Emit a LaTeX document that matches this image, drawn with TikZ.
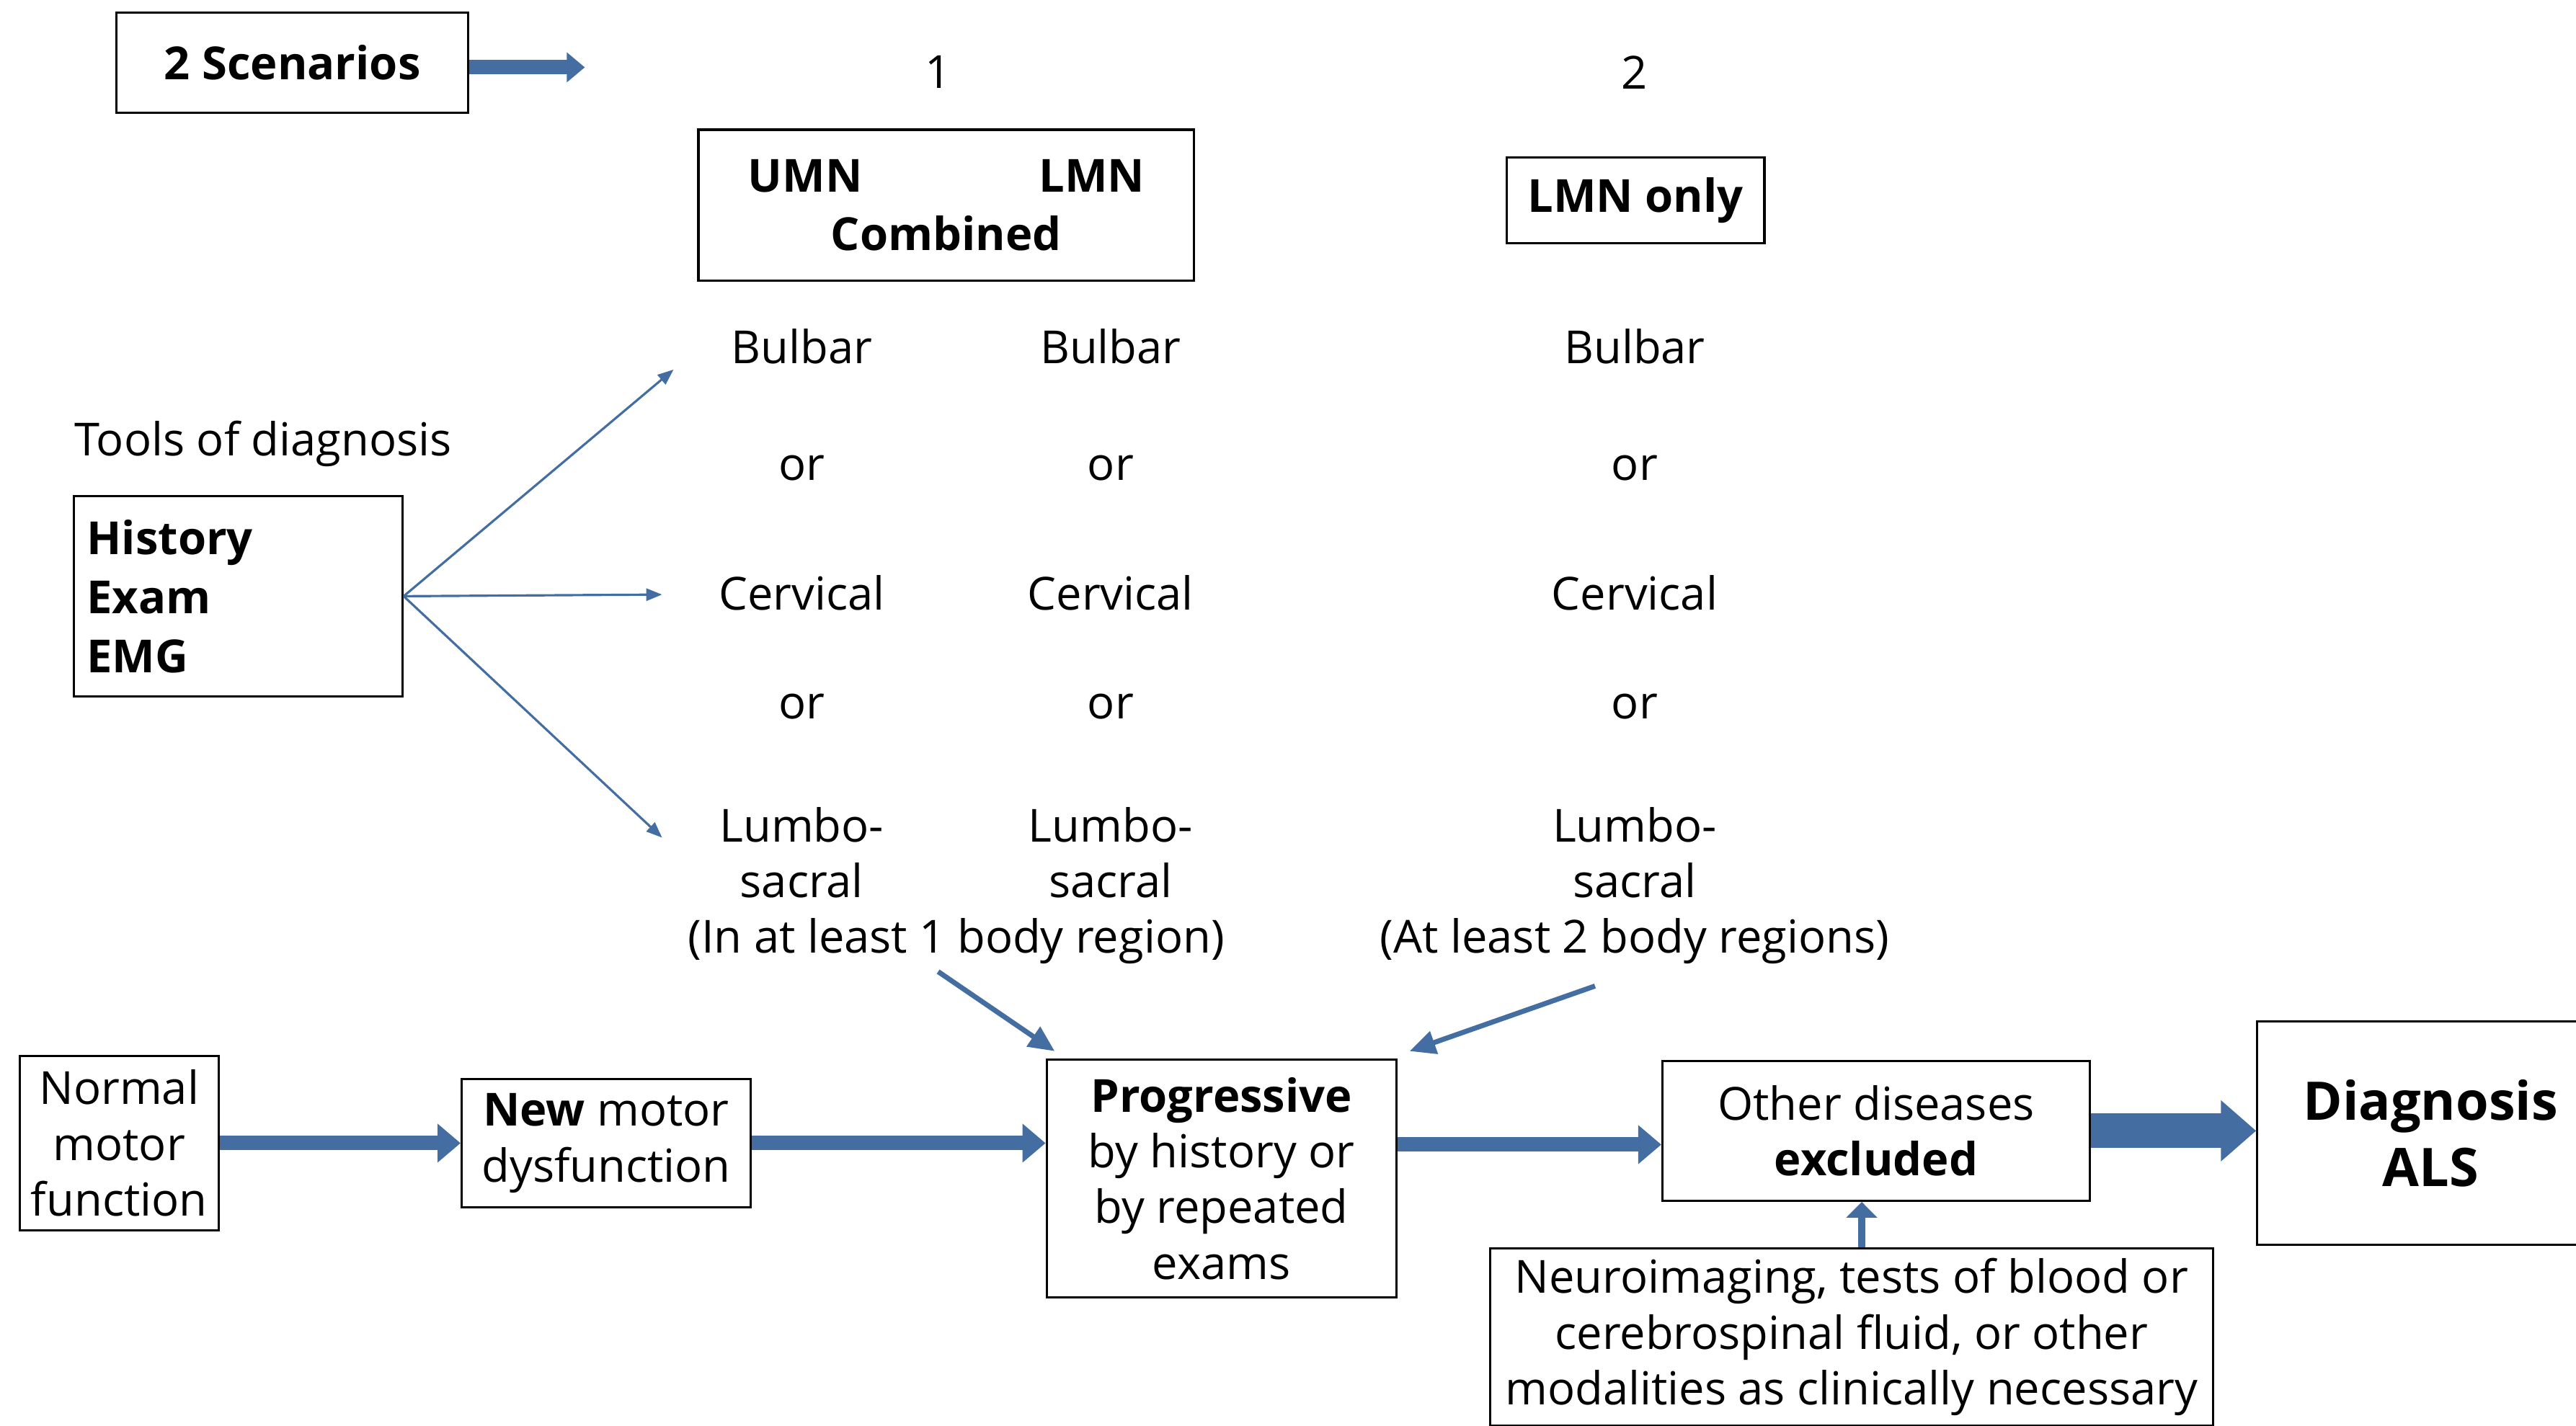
\documentclass[tikz,border=0pt]{standalone}
\usepackage{fontspec}
\setmainfont{Open Sans}
\usetikzlibrary{arrows.meta,positioning,calc}
\definecolor{arrowblue}{RGB}{68,110,162}

\begin{document}
\begin{tikzpicture}[x = 0.022793cm, y = -0.022793cm,
    every node/.style = {font = \fontsize{18}{22}\selectfont},
    box/.style = {draw, line width = 0.9pt, align = center, inner sep = 0pt},
    lbl/.style = {align = center, inner sep = 0pt},
    thinarr/.style = {draw = arrowblue, line width = 0.9pt, -{Triangle[length = 0.22cm, width = 0.17cm]}},
    flowarr/.style = {draw = arrowblue, line width = 0.2cm, -{Triangle[length = 0.32cm, width = 0.52cm]}},
    bigarr/.style = {draw = arrowblue, line width = 0.48cm, -{Triangle[length = 0.49cm, width = 0.82cm]}},
    pointarr/.style = {draw = arrowblue, line width = 0.07cm, -{Triangle[length = 0.36cm, width = 0.32cm]}}]
    \useasboundingbox (0,0) rectangle (1568,868);
    \clip (0,0) rectangle (1568,868);
    % Scenarios
    \node[box, minimum width = 4.88cm, minimum height = 1.39cm, font = \fontsize{18}{22}\selectfont\bfseries] (scen) at (178,38) {2 Scenarios};
    \coordinate (scenend) at (356,41);
    \draw[draw = arrowblue, line width = 0.2cm, -{Triangle[length = 0.25cm, width = 0.4cm]}] (scen.east |- scenend) -- (scenend);
    \node[lbl] (one) at (571,44) {1};
    \node[lbl] (two) at (995,44) {2};
    \node[box, minimum width = 6.88cm, minimum height = 2.1cm, font = \fontsize{18}{22}\selectfont\bfseries] (comb) at (576,125) {UMN\hspace*{2.45cm}LMN\\[1pt]Combined};
    \node[box, minimum width = 3.58cm, minimum height = 1.19cm, font = \fontsize{18}{22}\selectfont\bfseries] (lmn) at (995.5,122) {LMN only};
    % Body regions
    \foreach \c/\x in {a/488, b/676, c/995} {
        \node[lbl] (bul\c) at (\x,211) {Bulbar};
        \node[lbl] (ora\c) at (\x,285) {or};
        \node[lbl] (cer\c) at (\x,361) {Cervical};
        \node[lbl] (orb\c) at (\x,430) {or};
        \node[lbl] (lum\c) at (\x,519) {Lumbo-\\sacral};
    }
    \node[lbl] (noteone) at (582,573) {(In at least 1 body region)};
    \node[lbl] (notetwo) at (995,573) {(At least 2 body regions)};
    % Tools
    \node[lbl, anchor = west] (tools) at (45,270) {Tools of diagnosis};
    \node[box, align = left, inner xsep = 0.18cm, text width = 4.2cm, minimum height = 2.78cm, font = \fontsize{18}{22}\selectfont\bfseries] (hist) at (145,363) {History\\[1.3pt]Exam\\[1.3pt]EMG};
    \coordinate (tbul) at (410,225);
    \coordinate (tcer) at (403,362);
    \coordinate (tlum) at (403,510);
    \draw[thinarr] (hist.east) -- (tbul);
    \draw[thinarr] (hist.east) -- (tcer);
    \draw[thinarr] (hist.east) -- (tlum);
    % Flow
    \node[box, minimum width = 2.76cm, minimum height = 2.42cm] (normal) at (72.5,696) {Normal\\motor\\function};
    \node[box, minimum width = 4.01cm, minimum height = 1.78cm] (newm) at (369,696) {\textbf{New} motor\\dysfunction};
    \node[box, minimum width = 4.85cm, minimum height = 3.3cm] (prog) at (743.5,717.5) {\textbf{Progressive}\\by history or\\by repeated\\exams};
    \node[box, minimum width = 5.93cm, minimum height = 1.94cm] (other) at (1142,688.5) {Other diseases\\\textbf{excluded}};
    \node[box, minimum width = 4.81cm, minimum height = 3.1cm, font = \fontsize{21}{26}\selectfont\bfseries] (diag) at (1479.5,690) {Diagnosis\\ALS};
    \node[box, minimum width = 10.03cm, minimum height = 2.46cm] (neuro) at (1127,814) {Neuroimaging, tests of blood or\\cerebrospinal fluid, or other\\modalities as clinically necessary};
    \draw[flowarr] (normal.east |- newm.east) -- (newm.west);
    \draw[flowarr] (newm.east) -- (newm.east -| prog.west);
    \draw[flowarr] ([yshift = 0.47cm]prog.east) -- ([yshift = 0.47cm]prog.east -| other.west);
    \draw[bigarr] (other.east) -- (other.east -| diag.west);
    \draw[draw = arrowblue, line width = 0.1cm, -{Triangle[length = 0.22cm, width = 0.42cm]}] ([xshift = -0.2cm]other.south |- neuro.north) -- ([xshift = -0.2cm]other.south);
    \coordinate (pone) at (642,640);
    \coordinate (ptwo) at (858,640);
    \draw[pointarr] ([xshift = -0.25cm, yshift = -0.1cm]noteone.south) -- (pone);
    \draw[pointarr] ([xshift = -0.55cm, yshift = -0.3cm]notetwo.south) -- (ptwo);
\end{tikzpicture}
\end{document}
